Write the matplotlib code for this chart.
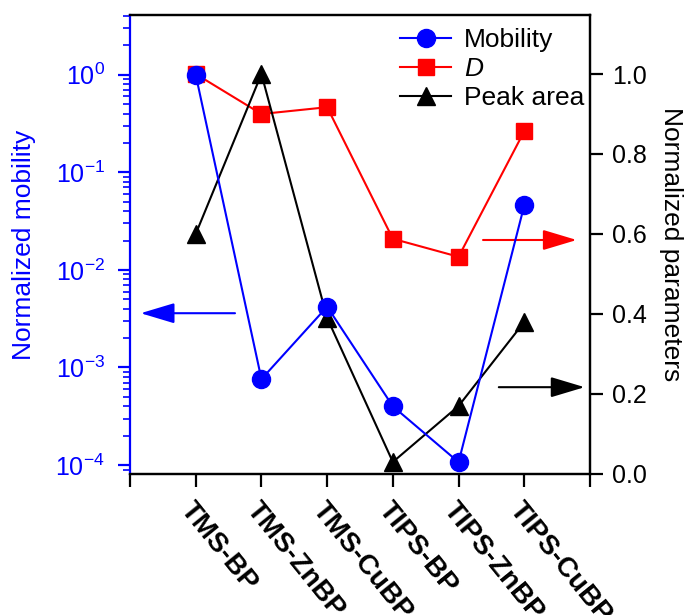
import matplotlib
matplotlib.use("Agg")
import matplotlib.pyplot as plt
from matplotlib.ticker import LogLocator, NullFormatter, FixedLocator

plt.rcParams['font.family'] = ['Liberation Sans', 'DejaVu Sans']
plt.rcParams['mathtext.fontset'] = 'custom'
plt.rcParams['mathtext.rm'] = 'Liberation Sans'
plt.rcParams['mathtext.it'] = 'Liberation Sans:italic'
plt.rcParams['mathtext.default'] = 'regular'

# Samples and normalized values
samples = ['TMS-BP', 'TMS-ZnBP', 'TMS-CuBP', 'TIPS-BP', 'TIPS-ZnBP', 'TIPS-CuBP']
mobility = [1.0, 7.6e-4, 4.2e-3, 4.0e-4, 1.07e-4, 0.046]
diffusion = [1.0, 0.90, 0.917, 0.588, 0.543, 0.857]
peak_area = [0.60, 1.0, 0.39, 0.03, 0.17, 0.38]

FS = 19
TICK_FS = 18
LW = 1.5
MS = 13

fig = plt.figure(figsize=(6.89, 6.15), dpi=100)
ax = fig.add_axes([0.1887, 0.2293, 0.6676, 0.7463])
ax2 = ax.twinx()

x = list(range(1, len(samples) + 1))

l1, = ax.plot(x, mobility, '-o', color='blue', lw=LW, ms=MS, label='Mobility')
l2, = ax2.plot(x, diffusion, '-s', color='red', lw=LW, ms=MS - 1, label='$\\mathit{D}$')
l3, = ax2.plot(x, peak_area, '-^', color='black', lw=LW, ms=MS, label='Peak area')
ax.set_zorder(ax2.get_zorder() + 1)
ax.patch.set_visible(False)

# left axis: log mobility
ax.set_yscale('log')
ax.set_ylim(8.1e-5, 4.1)
ax.yaxis.set_major_locator(LogLocator(base=10, numticks=10))
ax.yaxis.set_minor_locator(LogLocator(base=10, subs=range(2, 10), numticks=20))
ax.yaxis.set_minor_formatter(NullFormatter())
ax.set_ylabel('Normalized mobility', color='blue', fontsize=FS, labelpad=14)
ax.tick_params(axis='y', which='major', colors='blue', labelsize=TICK_FS, direction='out',
               length=9, width=1.6, pad=9)
ax.tick_params(axis='y', which='minor', colors='blue', direction='out', length=5, width=1.2)
ax.spines['left'].set_color('blue')

# x axis
ax.set_xlim(0, 7)
ax.xaxis.set_major_locator(FixedLocator(range(0, 8)))
ax.set_xticklabels([''] + samples + [''], rotation=-51, ha='left', va='top',
                   rotation_mode='anchor', fontsize=FS + 1, fontweight='bold')
ax.tick_params(axis='x', direction='out', length=9, width=1.6, pad=8)

# right axis: normalized parameters
ax2.set_ylim(0, 1.1475)
ax2.set_yticks([0.0, 0.2, 0.4, 0.6, 0.8, 1.0])
ax2.set_yticklabels(['0.0', '0.2', '0.4', '0.6', '0.8', '1.0'])
ax2.tick_params(axis='y', labelsize=TICK_FS, direction='out', length=9, width=1.6, pad=7)
ax2.set_ylabel('Normalized parameters', fontsize=FS, rotation=270, labelpad=26)

for a in (ax, ax2):
    for s in a.spines.values():
        s.set_linewidth(1.6)
ax2.spines['left'].set_visible(False)

# axis indicator arrows
arrow = dict(arrowstyle='-|>,head_length=1.5,head_width=0.45', lw=LW, mutation_scale=14)
ax.annotate('', xy=(0.12, 3.6e-3), xytext=(1.64, 3.6e-3),
            arrowprops=dict(arrow, color='blue'))
ax2.annotate('', xy=(6.84, 0.585), xytext=(5.33, 0.585),
             arrowprops=dict(arrow, color='red'))
ax2.annotate('', xy=(6.96, 0.217), xytext=(5.57, 0.217),
             arrowprops=dict(arrow, color='black'))

ax.legend([l1, l2, l3], ['Mobility', '$\\mathit{D}$', 'Peak area'],
          loc='upper left', bbox_to_anchor=(0.565, 0.995), frameon=False,
          fontsize=FS, handlelength=1.9, handletextpad=0.5, labelspacing=0.2,
          borderaxespad=0)

fig.savefig('out.png', dpi=100)
